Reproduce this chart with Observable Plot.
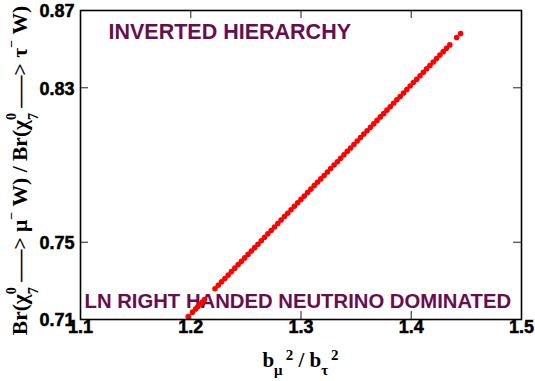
<!DOCTYPE html>
<html>
<head>
<meta charset="utf-8">
<script src="https://cdn.jsdelivr.net/npm/d3@7"></script>
<script src="https://cdn.jsdelivr.net/npm/@observablehq/plot@0.6"></script>
<style>
  html, body { margin: 0; padding: 0; background: #fff; }
  #chart svg { display: block; }
  #chart g[aria-label$="tick label"] text { font-weight: bold; }
</style>
</head>
<body>
<div id="chart"></div>
<script>
// ---- data ----
const xTicks = [1.1, 1.2, 1.3, 1.4, 1.5];
const yTicks = [0.71, 0.75, 0.83, 0.87];
const xInnerTicks = [1.2, 1.3, 1.4];
const yInnerTicks = [0.75, 0.83];

const ratioB = [
  1.1977, 1.2016, 1.2045, 1.2065, 1.2085, 1.2105, 1.2125,
  1.222, 1.225, 1.228, 1.231, 1.234, 1.237, 1.240, 1.243, 1.246, 1.249,
  1.252, 1.255, 1.258, 1.261, 1.264, 1.267, 1.270, 1.273, 1.276, 1.279,
  1.282, 1.285, 1.288, 1.291, 1.294, 1.297, 1.300, 1.303, 1.306, 1.309,
  1.312, 1.315, 1.318, 1.321, 1.324, 1.327, 1.330, 1.333, 1.336, 1.339,
  1.342, 1.345, 1.348, 1.351, 1.354, 1.357, 1.360, 1.363, 1.366, 1.369,
  1.372, 1.375, 1.378, 1.381, 1.384, 1.387, 1.390, 1.393, 1.396, 1.399,
  1.402, 1.405, 1.408, 1.411, 1.414, 1.417, 1.420, 1.423, 1.426, 1.429,
  1.432, 1.435,
  1.4412, 1.4448
];
const ratioBr = [
  0.7115, 0.7138, 0.7155, 0.7167, 0.7179, 0.7191, 0.7203,
  0.7259, 0.7277, 0.7295, 0.7312, 0.7330, 0.7348, 0.7366, 0.7384, 0.7401, 0.7419,
  0.7437, 0.7455, 0.7472, 0.7490, 0.7508, 0.7526, 0.7544, 0.7561, 0.7579, 0.7597,
  0.7615, 0.7633, 0.7650, 0.7668, 0.7686, 0.7704, 0.7722, 0.7739, 0.7757, 0.7775,
  0.7793, 0.7811, 0.7828, 0.7846, 0.7864, 0.7882, 0.7900, 0.7917, 0.7935, 0.7953,
  0.7971, 0.7988, 0.8006, 0.8024, 0.8042, 0.8060, 0.8077, 0.8095, 0.8113, 0.8131,
  0.8149, 0.8166, 0.8184, 0.8202, 0.8220, 0.8238, 0.8255, 0.8273, 0.8291, 0.8309,
  0.8327, 0.8344, 0.8362, 0.8380, 0.8398, 0.8415, 0.8433, 0.8451, 0.8469, 0.8487,
  0.8504, 0.8522,
  0.8560, 0.8581
];
const topNote = "INVERTED HIERARCHY";
const bottomNote = "LN RIGHT HANDED NEUTRINO DOMINATED";

// ---- chart ----
const points = ratioB.map((b, i) => ({b, br: ratioBr[i]}));
const W = 535, H = 381;
const mL = 80, mR = 14, mT = 10, mB = 62;
const innerH = H - mT - mB;
const innerW = W - mL - mR;
const tickLen = 8;
const purple = "#6a0d4c";
const sans = "'Liberation Sans', Arial, sans-serif";

const svg = Plot.plot({
  width: W,
  height: H,
  marginLeft: mL, marginRight: mR, marginTop: mT, marginBottom: mB,
  style: {fontFamily: sans, background: "white", overflow: "visible"},
  x: {domain: [1.1, 1.5], label: null},
  y: {domain: [0.71, 0.87], label: null},
  marks: [
    Plot.axisX(xTicks, {tickSize: 0, tickPadding: 1, tickFormat: d3.format(".1f"),
      fontSize: 18, fontWeight: "bold", fill: "black"}),
    Plot.axisY(yTicks, {tickSize: 0, tickPadding: 6, tickFormat: d3.format(".2f"),
      fontSize: 18, fontWeight: "bold", fill: "black", dy: 1}),
    Plot.tickX(xInnerTicks, {x: d => d, insetBottom: innerH - tickLen, stroke: "#444", strokeWidth: 1.2}),
    Plot.tickX(xInnerTicks, {x: d => d, insetTop: innerH - tickLen, stroke: "#444", strokeWidth: 1.2}),
    Plot.tickY(yInnerTicks, {y: d => d, insetRight: innerW - tickLen, stroke: "#444", strokeWidth: 1.2}),
    Plot.tickY(yInnerTicks, {y: d => d, insetLeft: innerW - tickLen, stroke: "#444", strokeWidth: 1.2}),
    Plot.text([topNote], {frameAnchor: "top-left", textAnchor: "start", lineAnchor: "top",
      dx: 28, dy: 13, fontSize: 21.5, fontWeight: "bold", fill: purple}),
    Plot.text([bottomNote], {frameAnchor: "bottom-left", textAnchor: "start", lineAnchor: "top",
      dx: 4, dy: -26, fontSize: 20.3, fontWeight: "bold", fill: purple}),
    Plot.dot(points, {x: "b", y: "br", r: 2.8, fill: "#ff0000", stroke: null}),
    Plot.frame({stroke: "black", strokeWidth: 1.6})
  ]
});

const s = d3.select(svg);
s.selectAll('g[aria-label$="tick label"] text')
  .style("font-weight", "bold")
  .attr("stroke", "black").attr("stroke-width", 0.5);

const serif = "'Liberation Serif', 'Times New Roman', serif";

// x-axis label: b_mu^2 / b_tau^2
const xl = s.append("text")
  .attr("x", mL + innerW / 2).attr("y", 367)
  .attr("text-anchor", "middle")
  .style("font-family", serif).style("font-weight", "bold")
  .style("font-size", "21px").attr("fill", "black");
xl.append("tspan").text("b");
xl.append("tspan").attr("dy", 8).style("font-size", "15px").text("μ");
xl.append("tspan").attr("dy", -15).attr("dx", 3).style("font-size", "15px").text("2");
xl.append("tspan").attr("dy", 7).text(" / b");
xl.append("tspan").attr("dy", 8).style("font-size", "15px").text("τ");
xl.append("tspan").attr("dy", -15).attr("dx", 3).style("font-size", "15px").text("2");

// y-axis label
const yl = s.append("text")
  .attr("transform", `translate(27,${mT + innerH / 2 + 6}) rotate(-90)`)
  .attr("text-anchor", "middle")
  .style("font-family", serif).style("font-weight", "bold")
  .style("font-size", "21.5px").attr("fill", "black");
function branch(lepton, first) {
  yl.append("tspan").attr("dy", first ? 0 : 11).text(first ? "Br(χ" : " W) / Br(χ");
  yl.append("tspan").attr("dy", -11).style("font-size", "14px").text("0");
  yl.append("tspan").attr("dy", 22).attr("dx", -7).style("font-size", "14px").text("7");
  yl.append("tspan").attr("dy", -11).text(" —–> " + lepton);
  yl.append("tspan").attr("dy", -11).style("font-size", "14px").text("−");
}
branch("μ", true);
branch("τ", false);
yl.append("tspan").attr("dy", 11).text(" W)");

document.getElementById("chart").appendChild(svg);
</script>
</body>
</html>
